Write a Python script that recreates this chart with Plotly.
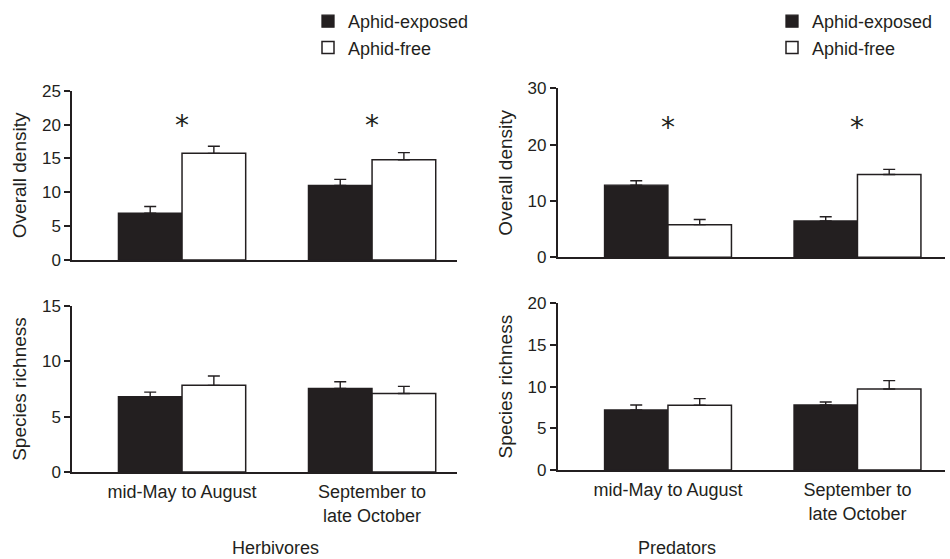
import plotly.graph_objects as go

# ---------------- data ----------------
categories = ["mid-May to August", "September to<br>late October"]
groups = ["Aphid-exposed", "Aphid-free"]

herb_density_exposed = [6.9, 11.0]
herb_density_exposed_err = [1.0, 0.9]
herb_density_free = [15.75, 14.8]
herb_density_free_err = [1.05, 1.05]

pred_density_exposed = [12.8, 6.45]
pred_density_exposed_err = [0.8, 0.75]
pred_density_free = [5.8, 14.7]
pred_density_free_err = [0.9, 0.9]

herb_rich_exposed = [6.8, 7.56]
herb_rich_exposed_err = [0.42, 0.6]
herb_rich_free = [7.83, 7.1]
herb_rich_free_err = [0.84, 0.64]

pred_rich_exposed = [7.2, 7.8]
pred_rich_exposed_err = [0.6, 0.36]
pred_rich_free = [7.76, 9.72]
pred_rich_free_err = [0.8, 1.0]

herb_density_ticks = [0, 5, 10, 15, 20, 25]
pred_density_ticks = [0, 10, 20, 30]
herb_rich_ticks = [0, 5, 10, 15]
pred_rich_ticks = [0, 5, 10, 15, 20]

sig_herb_density = [20.4, 20.4]
sig_pred_density = [23.8, 23.8]

# ---------------- style ----------------
INK = "#231f20"
FONT = "Liberation Sans, Arial, sans-serif"
W = 950
H = 559
BW = 0.335

fig = go.Figure()


def add_pair(xa, ya, exp_vals, exp_err, free_vals, free_err, legend=None):
    show = legend is not None
    fig.add_trace(go.Bar(
        x=categories, y=exp_vals, name=groups[0], xaxis=xa, yaxis=ya,
        width=BW, offset=-BW,
        marker=dict(color=INK, line=dict(color=INK, width=1.3)),
        error_y=dict(type="data", array=exp_err, arrayminus=[0, 0], symmetric=False,
                     color=INK, thickness=1.4, width=6),
        showlegend=show, legend=legend if show else "legend",
    ))
    fig.add_trace(go.Bar(
        x=categories, y=free_vals, name=groups[1], xaxis=xa, yaxis=ya,
        width=BW, offset=0,
        marker=dict(color="white", line=dict(color=INK, width=1.5)),
        error_y=dict(type="data", array=free_err, arrayminus=[0, 0], symmetric=False,
                     color=INK, thickness=1.4, width=6),
        showlegend=show, legend=legend if show else "legend",
    ))


add_pair("x", "y", herb_density_exposed, herb_density_exposed_err,
         herb_density_free, herb_density_free_err, legend="legend")
add_pair("x2", "y2", pred_density_exposed, pred_density_exposed_err,
         pred_density_free, pred_density_free_err, legend="legend2")
add_pair("x3", "y3", herb_rich_exposed, herb_rich_exposed_err,
         herb_rich_free, herb_rich_free_err)
add_pair("x4", "y4", pred_rich_exposed, pred_rich_exposed_err,
         pred_rich_free, pred_rich_free_err)


def px_x(a, b):
    return [a / W, b / W]


def px_y(bottom, top):
    return [1 - bottom / H, 1 - top / H]


xaxis_common = dict(
    type="category", showline=True, linecolor=INK, linewidth=1.5,
    ticks="", showgrid=False, zeroline=False, automargin=False,
    ticklabelstandoff=3,
    tickfont=dict(family=FONT, size=18, color=INK), fixedrange=True,
)
yaxis_common = dict(
    showline=True, linecolor=INK, linewidth=1.5, ticks="outside", ticklen=6,
    tickwidth=1.5, tickcolor=INK, showgrid=False, zeroline=False, automargin=True,
    tickfont=dict(family=FONT, size=17, color=INK),
    title_font=dict(family=FONT, size=19, color=INK), title_standoff=10,
    fixedrange=True,
)

left_x = px_x(72, 457)
right_x = px_x(557.5, 945)
left_rng = [-0.579, 1.447]
right_rng = [-0.583, 1.462]

fig.update_layout(
    xaxis=dict(domain=left_x, range=left_rng, anchor="y", showticklabels=False, **xaxis_common),
    xaxis2=dict(domain=right_x, range=right_rng, anchor="y2", showticklabels=False, **xaxis_common),
    xaxis3=dict(domain=left_x, range=left_rng, anchor="y3", **xaxis_common),
    xaxis4=dict(domain=right_x, range=right_rng, anchor="y4", **xaxis_common),
    yaxis=dict(domain=px_y(260, 90.7), range=[0, 25], tickvals=herb_density_ticks,
               anchor="x", title_text="Overall density", **yaxis_common),
    yaxis2=dict(domain=px_y(257.3, 88.3), range=[0, 30], tickvals=pred_density_ticks,
                anchor="x2", title_text="Overall density", **yaxis_common),
    yaxis3=dict(domain=px_y(472, 306), range=[0, 15], tickvals=herb_rich_ticks,
                anchor="x3", title_text="Species richness", **yaxis_common),
    yaxis4=dict(domain=px_y(470, 303.3), range=[0, 20], tickvals=pred_rich_ticks,
                anchor="x4", title_text="Species richness", **yaxis_common),
)

# significance asterisks
for i in range(2):
    fig.add_annotation(x=categories[i], y=sig_herb_density[i], xref="x", yref="y",
                       text="*", showarrow=False, yanchor="middle",
                       font=dict(family="DejaVu Sans", size=28, color=INK), yshift=-4)
    fig.add_annotation(x=categories[i], y=sig_pred_density[i], xref="x2", yref="y2",
                       text="*", showarrow=False, yanchor="middle",
                       font=dict(family="DejaVu Sans", size=28, color=INK), yshift=-4)

# panel titles
fig.add_annotation(x=230 / W, y=1 - 548 / H, xref="paper", yref="paper", text="Herbivores",
                   showarrow=False, yanchor="middle",
                   font=dict(family=FONT, size=18, color=INK))
fig.add_annotation(x=718 / W, y=1 - 548 / H, xref="paper", yref="paper", text="Predators",
                   showarrow=False, yanchor="middle",
                   font=dict(family=FONT, size=18, color=INK))

legend_style = dict(font=dict(family=FONT, size=18, color=INK), bgcolor="rgba(0,0,0,0)",
                    xanchor="left", yanchor="top", traceorder="normal", itemclick=False,
                    itemdoubleclick=False)
fig.update_layout(
    legend=dict(x=308 / W, y=1 - 3 / H, **legend_style),
    legend2=dict(x=772 / W, y=1 - 3 / H, **legend_style),
    barmode="overlay",
    width=W, height=H,
    margin=dict(l=0, r=0, t=0, b=0, autoexpand=False),
    paper_bgcolor="white", plot_bgcolor="white",
    font=dict(family=FONT, color=INK),
)

fig.write_html(
    "out.html",
    config={"displayModeBar": False},
    post_script="document.body.style.margin='0';document.body.style.overflow='hidden';",
)
